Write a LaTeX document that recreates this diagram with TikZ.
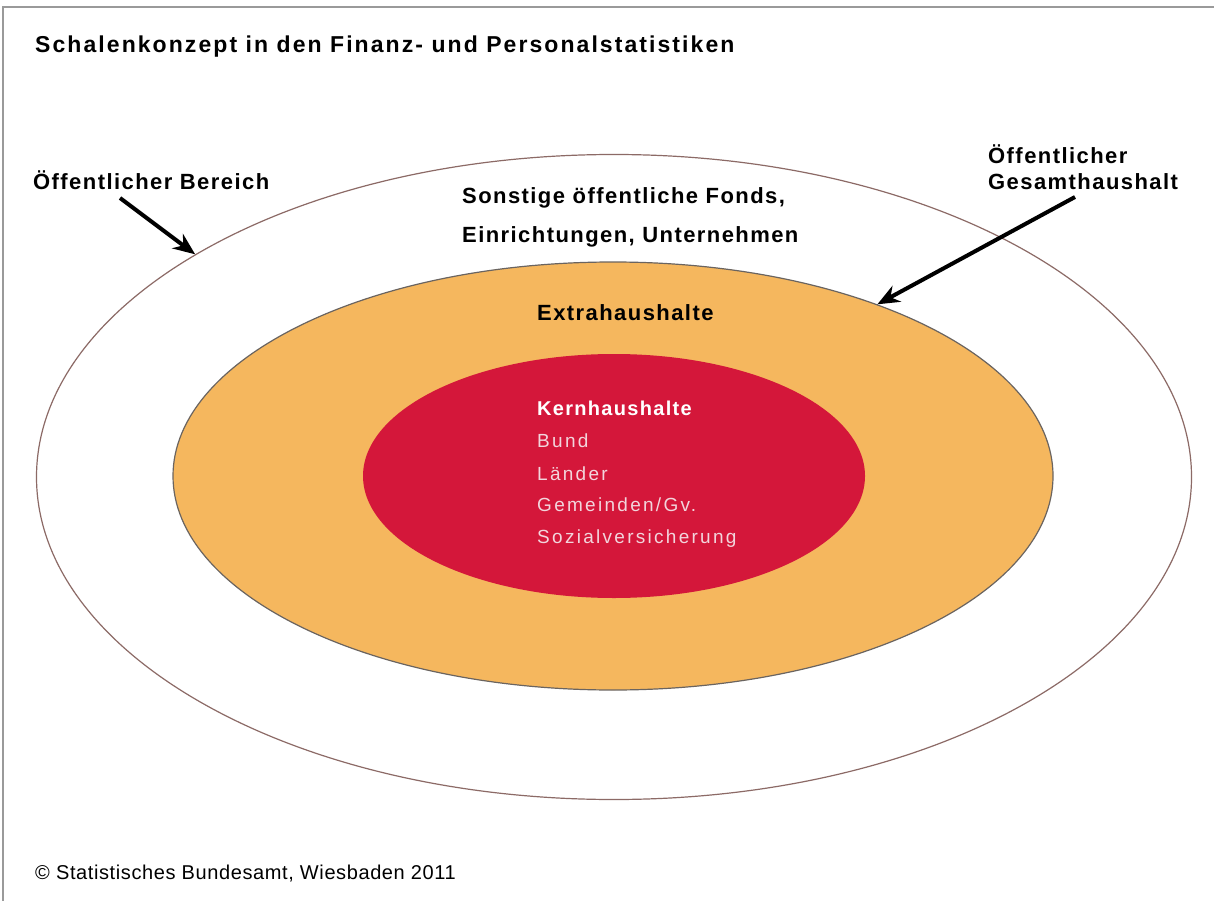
\documentclass[tikz,border=0pt]{standalone}
\usepackage{fontspec}
\setmainfont{Liberation Sans}
\newfontfamily\titlefont[LetterSpace=9]{Liberation Sans}
\newfontfamily\lblfont[LetterSpace=6.5]{Liberation Sans}
\newfontfamily\listfont[LetterSpace=12]{Liberation Sans}
\newfontfamily\footfont[LetterSpace=3]{Liberation Sans}
\usetikzlibrary{shapes.geometric,arrows.meta}
\definecolor{outerline}{HTML}{8C6A66}
\definecolor{orangefill}{HTML}{F5B75E}
\definecolor{orangeline}{HTML}{6A6460}
\definecolor{redfill}{HTML}{D4173A}
\definecolor{pinktext}{HTML}{F2D5DC}
\definecolor{framegray}{HTML}{9A9A9A}
\tikzset{
  shell/.style={ellipse, inner sep=0pt, line width=1.2pt},
  lbl/.style={anchor=base west, inner sep=0pt, font=\lblfont\bfseries\fontsize{22}{26}\selectfont},
  kern/.style={anchor=base west, inner sep=0pt, text=pinktext, font=\listfont\fontsize{19}{22}\selectfont},
  pointer/.style={line width=4pt, -{Stealth[length=22pt,width=18pt]}}
}
\begin{document}
\begin{tikzpicture}[x=1pt,y=-1pt]
\useasboundingbox (0,0) rectangle (1214,901);
\fill[white] (0,0) rectangle (1214,901);
\coordinate (ftl) at (3,7);
\coordinate (ftr) at (1214,7);
\coordinate (fbl) at (3,901);
\draw[framegray, line width=2pt] (ftr) -- (ftl) -- (fbl);
% shells
\node[shell, draw=outerline, minimum width=1155pt, minimum height=645pt] (outer) at (614,477) {};
\node[shell, draw=orangeline, fill=orangefill, minimum width=880pt, minimum height=428pt] (extra) at (613,476) {};
\node[shell, fill=redfill, minimum width=502pt, minimum height=244pt] (kernel) at (614,476) {};
% texts
\node[anchor=base west, inner sep=0pt, font=\titlefont\bfseries\fontsize{23}{27}\selectfont] (title) at (35,53) {Schalenkonzept in den Finanz- und Personalstatistiken};
\node[lbl] (bereich) at (33,190) {Öffentlicher Bereich};
\node[lbl] (sonst1) at (462,204) {Sonstige öffentliche Fonds,};
\node[lbl] (sonst2) at (462,243) {Einrichtungen, Unternehmen};
\node[lbl] (oeff1) at (988,164) {Öffentlicher};
\node[lbl] (oeff2) at (988,190) {Gesamthaushalt};
\node[lbl] (extralbl) at (537,320) {Extrahaushalte};
\node[lbl, text=white, font=\lblfont\bfseries\fontsize{20}{24}\selectfont] (kernlbl) at (537,415) {Kernhaushalte};
\node[kern] (bund) at (537,447) {Bund};
\node[kern] (laender) at (537,480) {Länder};
\node[kern] (gemeinden) at (537,511) {Gemeinden/Gv.};
\node[kern] (sozial) at (537,543) {Sozialversicherung};
\node[anchor=base west, inner sep=0pt, font=\footfont\fontsize{20}{24}\selectfont] (footer) at (35,879) {© Statistisches Bundesamt, Wiesbaden 2011};
% pointers
\coordinate (p1) at (120,198);
\coordinate (p2) at (1075,197);
\draw[pointer] (p1) -- (outer.152);
\draw[pointer] (p2) -- (extra.33);
\end{tikzpicture}
\end{document}
